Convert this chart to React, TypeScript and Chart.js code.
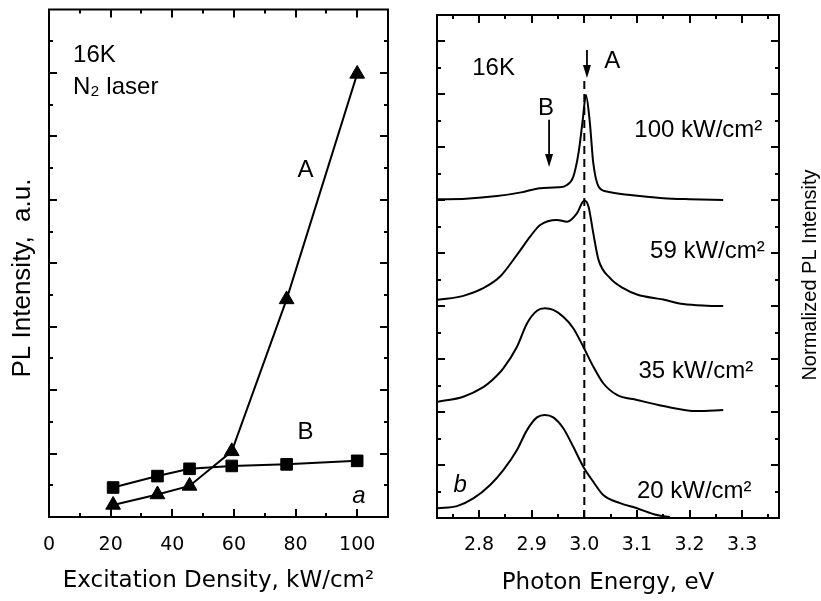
import React, { useEffect, useRef } from 'react';
import { Chart, registerables } from 'chart.js';

Chart.register(...registerables);

const FONT = "'DejaVu Sans', 'Liberation Sans', sans-serif";
const NOTE_FONT = "'Liberation Sans', Arial, sans-serif";

// ---------- Panel a : PL intensity vs excitation density ----------
const excitationDensity = [20.8, 35.2, 45.6, 59.3, 77.1, 100];
const intensityA = [0.38, 0.71, 0.98, 2.07, 6.86, 13.97];
const intensityB = [0.93, 1.29, 1.52, 1.61, 1.66, 1.77];
const excitationTicks = [0, 20, 40, 60, 80, 100];
const excitationMinorTicks = [10, 30, 50, 70, 90];
const intensityMajorTicks = [2, 4, 6, 8, 10, 12, 14];
const intensityMinorTicks = [1, 3, 5, 7, 9, 11, 13, 15];

// ---------- Panel b : normalized PL spectra (offset) ----------
const energy100 = [2.722, 2.775, 2.834, 2.88, 2.916, 2.95, 2.967, 2.979, 2.989, 2.997, 3.003, 3.01, 3.017, 3.027, 3.043, 3.087, 3.15, 3.2, 3.264];
const pl100 = [12.04, 12.06, 12.16, 12.3, 12.46, 12.49, 12.58, 12.89, 13.79, 15.04, 15.98, 15.04, 13.41, 12.52, 12.33, 12.2, 12.08, 12.04, 12.01];

const energy59 = [2.722, 2.77, 2.808, 2.84, 2.872, 2.897, 2.916, 2.948, 2.967, 2.986, 3.0, 3.008, 3.017, 3.027, 3.049, 3.074, 3.1, 3.15, 3.188, 3.233, 3.264];
const pl59 = [8.24, 8.39, 8.68, 9.12, 9.94, 10.63, 11.07, 11.26, 11.19, 11.51, 11.99, 11.76, 10.76, 9.75, 9.06, 8.68, 8.44, 8.25, 8.08, 8.02, 8.01];

const energy35 = [2.722, 2.77, 2.808, 2.824, 2.846, 2.872, 2.891, 2.91, 2.925, 2.941, 2.96, 2.979, 2.998, 3.017, 3.036, 3.062, 3.1, 3.15, 3.214, 3.264];
const pl35 = [4.39, 4.58, 4.94, 5.19, 5.65, 6.47, 7.35, 7.83, 7.92, 7.86, 7.6, 7.17, 6.47, 5.72, 5.09, 4.65, 4.46, 4.23, 4.04, 4.08];

const energy20 = [2.722, 2.758, 2.789, 2.821, 2.846, 2.872, 2.891, 2.91, 2.925, 2.941, 2.96, 2.979, 2.998, 3.017, 3.036, 3.068, 3.1, 3.138, 3.163];
const pl20 = [0.37, 0.45, 0.74, 1.25, 1.81, 2.57, 3.32, 3.8, 3.89, 3.8, 3.39, 2.69, 1.94, 1.37, 0.87, 0.56, 0.37, 0.11, 0.03];

const peakAEnergy = [3.0, 3.0];
const peakALevels = [0, 16.55];

const energyTicks = [2.8, 2.9, 3.0, 3.1, 3.2, 3.3];
const energyMinorTicks = [2.75, 2.85, 2.95, 3.05, 3.15, 3.25, 3.35];
const normMajorTicks = [2, 4, 6, 8, 10, 12, 14, 16, 18];
const normMinorTicks = [1, 3, 5, 7, 9, 11, 13, 15, 17];

// arrows in panel b (data coordinates)
const arrowEnergy = [3.005, 2.933];
const arrowStart = [17.68, 15.04];
const arrowTip = [16.62, 13.26];

type Note = { text: string; x: number; y: number; align: CanvasTextAlign; italic?: boolean };

const leftNotes: Note[] = [
  { text: '16K', x: 7.8, y: 14.33, align: 'left' },
  { text: 'N₂ laser', x: 7.8, y: 13.35, align: 'left' },
  { text: 'A', x: 83.2, y: 10.71, align: 'center' },
  { text: 'B', x: 83.2, y: 2.46, align: 'center' },
  { text: 'a', x: 100.6, y: 0.44, align: 'center', italic: true },
];

const rightNotes: Note[] = [
  { text: '16K', x: 2.787, y: 16.74, align: 'left' },
  { text: 'A', x: 3.053, y: 17.0, align: 'center' },
  { text: 'B', x: 2.927, y: 15.22, align: 'center' },
  { text: '100 kW/cm²', x: 3.095, y: 14.39, align: 'left' },
  { text: '59 kW/cm²', x: 3.125, y: 9.82, align: 'left' },
  { text: '35 kW/cm²', x: 3.103, y: 5.29, align: 'left' },
  { text: '20 kW/cm²', x: 3.1, y: 0.76, align: 'left' },
  { text: 'b', x: 2.764, y: 0.98, align: 'center', italic: true },
];

type PanelOpts = {
  xMajor: number[];
  xMinor: number[];
  yMajor: number[];
  yMinor: number[];
  notes: Note[];
  yTitle: string;
  yTitleX: number;
  yTitleY: number;
  yTitleSize: number;
  arrows?: boolean;
};

function panelPlugin(o: PanelOpts) {
  return {
    id: 'panelDecor',
    afterDraw(chart: any) {
      const { ctx, chartArea } = chart;
      const { left, right, top, bottom } = chartArea;
      const xs = chart.scales.x;
      const ys = chart.scales.y;
      ctx.save();
      ctx.strokeStyle = '#000';
      ctx.fillStyle = '#000';
      ctx.lineWidth = 2;
      ctx.beginPath();
      const vt = (v: number, len: number) => {
        const p = Math.round(xs.getPixelForValue(v));
        ctx.moveTo(p, bottom);
        ctx.lineTo(p, bottom - len);
        ctx.moveTo(p, top);
        ctx.lineTo(p, top + len);
      };
      const ht = (v: number, len: number) => {
        const p = Math.round(ys.getPixelForValue(v));
        ctx.moveTo(left, p);
        ctx.lineTo(left + len, p);
        ctx.moveTo(right, p);
        ctx.lineTo(right - len, p);
      };
      o.xMajor.forEach((v) => vt(v, 8));
      o.xMinor.forEach((v) => vt(v, 4));
      o.yMajor.forEach((v) => ht(v, 8));
      o.yMinor.forEach((v) => ht(v, 4));
      ctx.stroke();
      ctx.strokeRect(left, top, right - left, bottom - top);

      // arrows
      if (o.arrows) {
        ctx.lineWidth = 1.8;
        arrowEnergy.forEach((e, i) => {
          const px = xs.getPixelForValue(e);
          const y0 = ys.getPixelForValue(arrowStart[i]);
          const y1 = ys.getPixelForValue(arrowTip[i]);
          ctx.beginPath();
          ctx.moveTo(px, y0);
          ctx.lineTo(px, y1 - 8);
          ctx.stroke();
          ctx.beginPath();
          ctx.moveTo(px, y1);
          ctx.lineTo(px - 4, y1 - 13);
          ctx.lineTo(px + 4, y1 - 13);
          ctx.closePath();
          ctx.fill();
        });
      }

      // notes
      ctx.textBaseline = 'alphabetic';
      o.notes.forEach((n) => {
        ctx.font = `${n.italic ? 'italic ' : ''}24px ${NOTE_FONT}`;
        ctx.textAlign = n.align;
        ctx.fillText(n.text, xs.getPixelForValue(n.x), ys.getPixelForValue(n.y));
      });

      // vertical title
      ctx.translate(o.yTitleX, o.yTitleY);
      ctx.rotate(-Math.PI / 2);
      ctx.font = `${o.yTitleSize}px ${NOTE_FONT}`;
      ctx.textAlign = 'center';
      ctx.textBaseline = 'middle';
      ctx.fillText(o.yTitle, 0, 0);
      ctx.restore();
    },
  };
}

const pts = (xs: number[], ys: number[]) => xs.map((x, i) => ({ x, y: ys[i] }));

function makeLeftConfig(): any {
  return {
    type: 'scatter',
    data: {
      datasets: [
        {
          label: 'A',
          data: pts(excitationDensity, intensityA),
          showLine: true,
          borderColor: '#000',
          backgroundColor: '#000',
          borderWidth: 2,
          pointStyle: 'triangle',
          pointRadius: 8.5,
          pointBorderWidth: 1,
          tension: 0,
        },
        {
          label: 'B',
          data: pts(excitationDensity, intensityB),
          showLine: true,
          borderColor: '#000',
          backgroundColor: '#000',
          borderWidth: 2,
          pointStyle: 'rect',
          pointRadius: 8.2,
          pointBorderWidth: 1,
          tension: 0,
        },
      ],
    },
    options: {
      animation: false,
      responsive: false,
      maintainAspectRatio: false,
      events: [],
      layout: { padding: { top: 9, right: 22, left: 0, bottom: 0 } },
      plugins: { legend: { display: false }, tooltip: { enabled: false } },
      scales: {
        x: {
          type: 'linear',
          position: 'bottom',
          min: 0,
          max: 110,
          grid: { display: false, drawTicks: false },
          border: { display: false },
          ticks: {
            padding: 17,
            color: '#000',
            font: { family: FONT, size: 19 },
            maxRotation: 0,
            autoSkip: false,
            callback: (v: any) => String(v),
          },
          afterBuildTicks: (s: any) => {
            s.ticks = excitationTicks.map((v) => ({ value: v }));
          },
          afterFit: (s: any) => {
            s.height = 84;
            s.paddingLeft = 0;
            s.paddingRight = 0;
          },
          title: {
            display: true,
            text: 'Excitation Density, kW/cm²',
            color: '#000',
            font: { family: FONT, size: 23 },
            padding: { top: 0, bottom: 6 },
          },
        },
        y: {
          type: 'linear',
          min: 0,
          max: 16,
          grid: { display: false, drawTicks: false },
          border: { display: false },
          ticks: { display: false },
          afterFit: (s: any) => {
            s.width = 49;
            s.paddingTop = 0;
            s.paddingBottom = 0;
          },
        },
      },
    },
    plugins: [
      panelPlugin({
        xMajor: excitationTicks,
        xMinor: excitationMinorTicks,
        yMajor: intensityMajorTicks,
        yMinor: intensityMinorTicks,
        notes: leftNotes,
        yTitle: 'PL Intensity,  a.u.',
        yTitleX: 22.5,
        yTitleY: 278,
        yTitleSize: 26,
      }),
    ],
  };
}

function spectrum(label: string, xs: number[], ys: number[]) {
  return {
    label,
    data: pts(xs, ys),
    showLine: true,
    borderColor: '#000',
    borderWidth: 2,
    pointRadius: 0,
    cubicInterpolationMode: 'monotone',
  };
}

function makeRightConfig(): any {
  return {
    type: 'scatter',
    data: {
      datasets: [
        spectrum('100 kW/cm²', energy100, pl100),
        spectrum('59 kW/cm²', energy59, pl59),
        spectrum('35 kW/cm²', energy35, pl35),
        spectrum('20 kW/cm²', energy20, pl20),
        {
          label: 'A line',
          data: pts(peakAEnergy, peakALevels),
          showLine: true,
          borderColor: '#000',
          borderWidth: 2,
          borderDash: [8, 5],
          pointRadius: 0,
        },
      ],
    },
    options: {
      animation: false,
      responsive: false,
      maintainAspectRatio: false,
      events: [],
      layout: { padding: { top: 15, right: 42, left: 0, bottom: 0 } },
      plugins: { legend: { display: false }, tooltip: { enabled: false } },
      scales: {
        x: {
          type: 'linear',
          position: 'bottom',
          min: 2.72,
          max: 3.37,
          grid: { display: false, drawTicks: false },
          border: { display: false },
          ticks: {
            padding: 16,
            color: '#000',
            font: { family: FONT, size: 19 },
            maxRotation: 0,
            autoSkip: false,
            callback: (v: any) => Number(v).toFixed(1),
          },
          afterBuildTicks: (s: any) => {
            s.ticks = energyTicks.map((v) => ({ value: v }));
          },
          afterFit: (s: any) => {
            s.height = 83;
            s.paddingLeft = 0;
            s.paddingRight = 0;
          },
          title: {
            display: true,
            text: 'Photon Energy, eV',
            color: '#000',
            font: { family: FONT, size: 23 },
            padding: { top: 0, bottom: 4 },
          },
        },
        y: {
          type: 'linear',
          min: 0,
          max: 19,
          grid: { display: false, drawTicks: false },
          border: { display: false },
          ticks: { display: false },
          afterFit: (s: any) => {
            s.width = 27;
            s.paddingTop = 0;
            s.paddingBottom = 0;
          },
        },
      },
    },
    plugins: [
      panelPlugin({
        xMajor: energyTicks,
        xMinor: energyMinorTicks,
        yMajor: normMajorTicks,
        yMinor: normMinorTicks,
        notes: rightNotes,
        yTitle: 'Normalized PL Intensity',
        yTitleX: 400,
        yTitleY: 275,
        yTitleSize: 20,
        arrows: true,
      }),
    ],
  };
}

export default function App() {
  const leftRef = useRef<HTMLCanvasElement | null>(null);
  const rightRef = useRef<HTMLCanvasElement | null>(null);

  useEffect(() => {
    Chart.defaults.font.family = FONT;
    Chart.defaults.color = '#000';
    const c1 = new Chart(leftRef.current as HTMLCanvasElement, makeLeftConfig());
    const c2 = new Chart(rightRef.current as HTMLCanvasElement, makeRightConfig());
    return () => {
      c1.destroy();
      c2.destroy();
    };
  }, []);

  return (
    <div style={{ position: 'fixed', left: 0, top: 0, width: 821, height: 601, background: '#fff', overflow: 'hidden' }}>
      <canvas ref={leftRef} width={410} height={601} style={{ position: 'absolute', left: 0, top: 0, width: 410, height: 601 }} />
      <canvas ref={rightRef} width={411} height={601} style={{ position: 'absolute', left: 410, top: 0, width: 411, height: 601 }} />
    </div>
  );
}
